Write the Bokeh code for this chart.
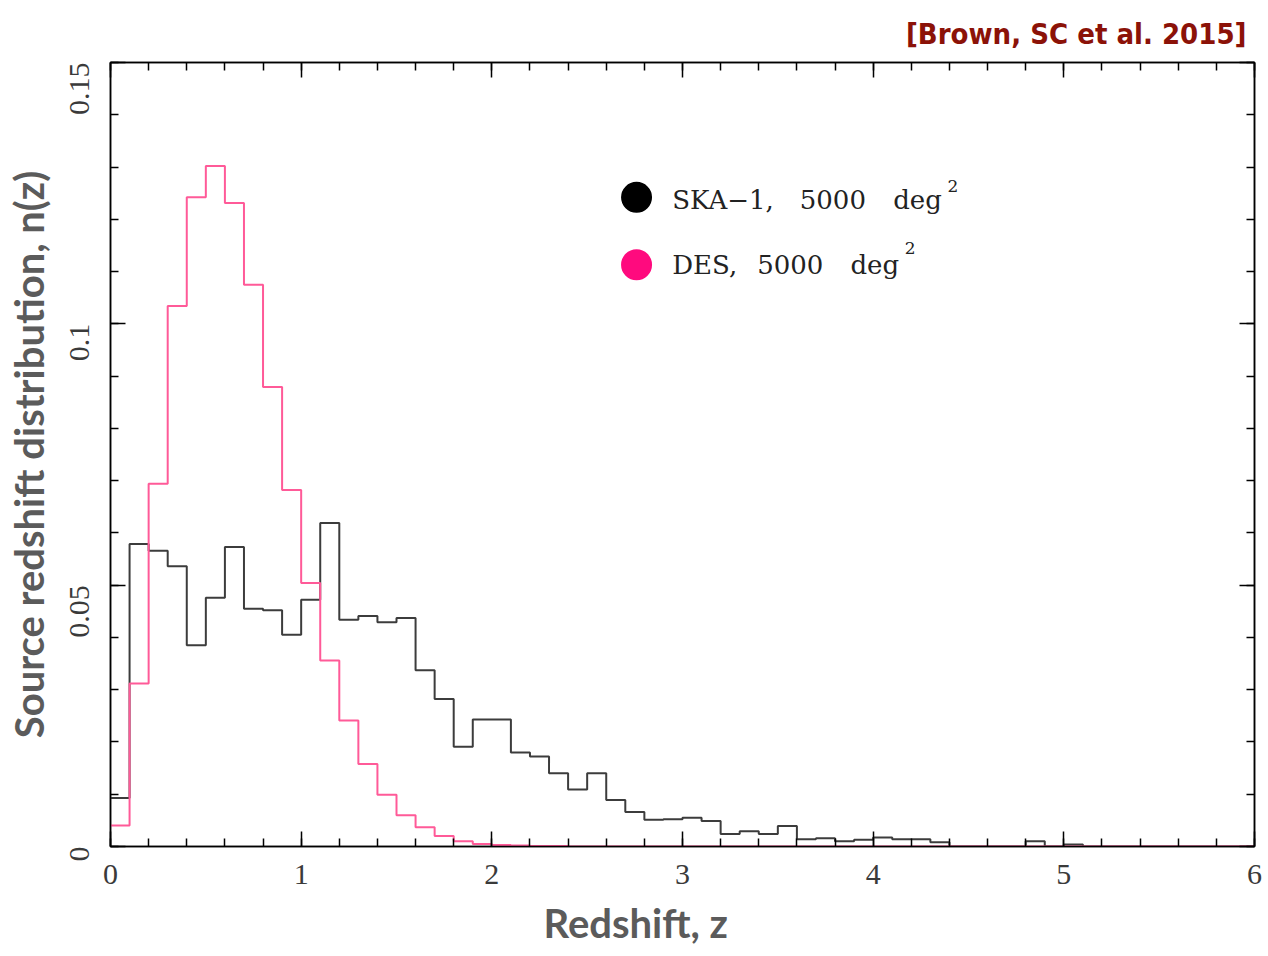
import math
from bokeh.plotting import figure
from bokeh.models import (Range1d, FixedTicker, LinearAxis, Title,
                          CustomJSTickFormatter, Label, ColumnDataSource)
from bokeh.embed import file_html
from bokeh.resources import INLINE

# ---------------- data ----------------
bin_width = 0.1
n_bins = 60
bin_edges = [round(i * bin_width, 1) for i in range(n_bins + 1)]

ska_nz = [0.0093, 0.0579, 0.0566, 0.0536, 0.0385, 0.0476, 0.0573, 0.0455, 0.0452, 0.0405,
          0.0472, 0.0619, 0.0434, 0.0441, 0.0429, 0.0437, 0.0337, 0.0282, 0.0191, 0.0243,
          0.0243, 0.0180, 0.0172, 0.0140, 0.0109, 0.0140, 0.0089, 0.0066, 0.0051, 0.0052,
          0.0055, 0.0049, 0.0024, 0.0029, 0.0024, 0.0039, 0.0014, 0.0016, 0.0010, 0.0013,
          0.0017, 0.0014, 0.0014, 0.0008, 0.0, 0.0, 0.0, 0.0, 0.0010, 0.0,
          0.0004, 0.0, 0.0, 0.0, 0.0, 0.0, 0.0, 0.0, 0.0, 0.0]

des_nz = [0.0040, 0.0312, 0.0694, 0.1034, 0.1242, 0.1302, 0.1231, 0.1075, 0.0879, 0.0682,
          0.0504, 0.0356, 0.0241, 0.0158, 0.0099, 0.0060, 0.0037, 0.0020, 0.0010, 0.0005,
          0.0003, 0.0002, 0.0001, 0.0001, 0.0, 0.0, 0.0, 0.0, 0.0, 0.0,
          0.0, 0.0, 0.0, 0.0, 0.0, 0.0, 0.0, 0.0, 0.0, 0.0,
          0.0, 0.0, 0.0, 0.0, 0.0, 0.0, 0.0, 0.0, 0.0, 0.0,
          0.0, 0.0, 0.0, 0.0, 0.0, 0.0, 0.0, 0.0, 0.0, 0.0]

x_major_ticks = [0, 1, 2, 3, 4, 5, 6]
x_minor_ticks = [round(i * 0.2, 1) for i in range(31)]
y_major_ticks = [0, 0.05, 0.1, 0.15]
y_minor_ticks = [round(i * 0.01, 2) for i in range(16)]

# ---------------- figure ----------------
p = figure(width=1268, height=956, x_range=Range1d(0, 6), y_range=Range1d(0, 0.15),
           output_backend="svg", toolbar_location=None,
           min_border_left=110, min_border_right=14, min_border_top=62, min_border_bottom=110)
p.background_fill_color = "white"
p.border_fill_color = "white"
p.grid.visible = False
p.outline_line_color = "black"
p.outline_line_width = 1.5

fmt = CustomJSTickFormatter(code="return String(parseFloat(tick.toFixed(3)))")
blank = CustomJSTickFormatter(code="return ''")


def style_axis(ax, show_labels):
    ax.major_tick_in = 15
    ax.major_tick_out = 0
    ax.minor_tick_in = 8
    ax.minor_tick_out = 0
    ax.axis_line_color = "black"
    ax.axis_line_width = 1.5
    ax.major_tick_line_color = "black"
    ax.major_tick_line_width = 1.5
    ax.minor_tick_line_color = "black"
    ax.minor_tick_line_width = 1.5
    if show_labels:
        ax.major_label_text_font = "Liberation Serif"
        ax.major_label_text_font_size = "30px"
        ax.major_label_text_color = "#3a3a3a"
    else:
        ax.major_label_text_font_size = "0px"
        ax.major_label_standoff = 0


lab_color = "#5b5b5b"

xax = p.xaxis[0]
xax.ticker = FixedTicker(ticks=x_major_ticks, minor_ticks=x_minor_ticks)
xax.formatter = fmt
style_axis(xax, True)
xax.major_label_standoff = 18

yax = p.yaxis[0]
yax.ticker = FixedTicker(ticks=y_major_ticks, minor_ticks=y_minor_ticks)
yax.formatter = fmt
style_axis(yax, True)
yax.major_label_orientation = math.pi / 2
yax.major_label_standoff = 31
yax.axis_label = "Source redshift distribution, n(z)"
yax.axis_label_text_font = "Lato"
yax.axis_label_text_font_style = "bold"
yax.axis_label_text_font_size = "40px"
yax.axis_label_text_color = lab_color
yax.axis_label_standoff = 5

top_ax = LinearAxis(ticker=FixedTicker(ticks=x_major_ticks, minor_ticks=x_minor_ticks),
                    formatter=blank)
style_axis(top_ax, False)
p.add_layout(top_ax, "above")
right_ax = LinearAxis(ticker=FixedTicker(ticks=y_major_ticks, minor_ticks=y_minor_ticks),
                      formatter=blank)
style_axis(right_ax, False)
p.add_layout(right_ax, "right")

# ---------------- histograms ----------------
ska_src = ColumnDataSource(dict(x=bin_edges, y=ska_nz + [ska_nz[-1]]))
des_src = ColumnDataSource(dict(x=bin_edges, y=des_nz + [des_nz[-1]]))
p.step("x", "y", source=ska_src, mode="after", line_color="#3c3c3c", line_width=2)
p.step("x", "y", source=des_src, mode="after", line_color="#ff5a98", line_width=2)

# ---------------- legend ----------------
p.scatter([2.759, 2.759], [0.1242, 0.1113], size=31, marker="circle",
          fill_color=["black", "#ff0a7e"], line_color=None)

legend_rows = [
    (0.1237, 0.1263, [("SKA\u22121,", 2.946), ("5000", 3.615), ("deg", 4.105)], 4.390),
    (0.1113, 0.1145, [("DES,", 2.946), ("5000", 3.392), ("deg", 3.881)], 4.165),
]
for base_y, sup_y, words, sup_x in legend_rows:
    for w, wx in words:
        p.add_layout(Label(x=wx, y=base_y, text=w, text_font="DejaVu Serif",
                           text_font_size="26px", text_color="#222222",
                           text_align="left", text_baseline="alphabetic"))
    p.add_layout(Label(x=sup_x, y=sup_y, text="2", text_font="DejaVu Serif",
                       text_font_size="17px", text_color="#222222",
                       text_align="left", text_baseline="alphabetic"))

# ---------------- x axis label (as a positioned title below) ----------------
xlab = Title(text="Redshift, z", align="left", offset=433, text_font="Lato",
             text_font_style="bold", text_font_size="40px", text_color=lab_color,
             standoff=20, vertical_align="bottom")
p.add_layout(xlab, "below")

# ---------------- title ----------------
p.title.text = "[Brown, SC et al. 2015]"
p.title.align = "right"
p.title.offset = 8
p.title.text_color = "#8b1208"
p.title.text_font = "DejaVu Sans Condensed"
p.title.text_font_style = "bold"
p.title.text_font_size = "29px"
p.title.standoff = 20
p.title.vertical_align = "top"

open("out.html", "w").write(file_html(p, INLINE))
